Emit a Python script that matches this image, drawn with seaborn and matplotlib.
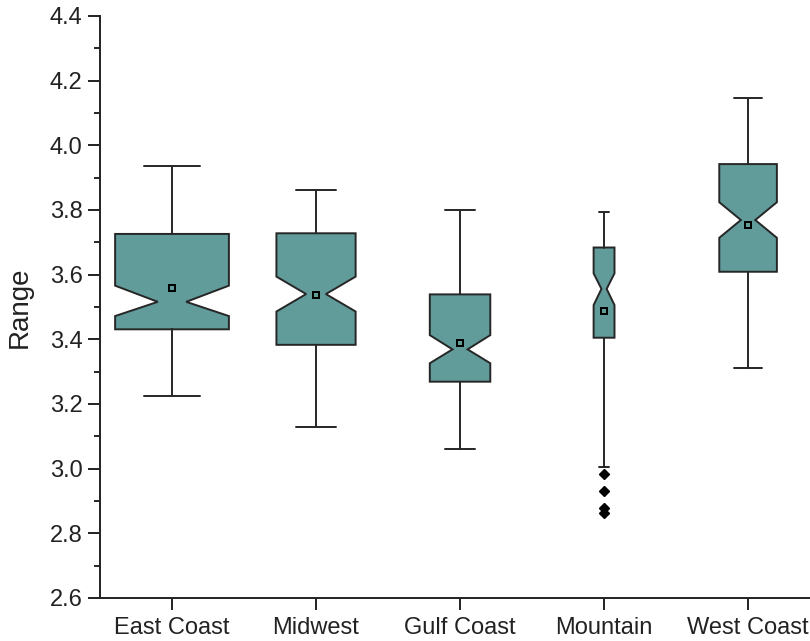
import matplotlib
matplotlib.use("Agg")
import matplotlib.pyplot as plt
import seaborn as sns

# значения
regions = ["East Coast", "Midwest", "Gulf Coast", "Mountain", "West Coast"]
whislo = [3.226, 3.128, 3.060, 3.004, 3.312]
q1 = [3.431, 3.383, 3.269, 3.405, 3.609]
medians = [3.516, 3.540, 3.369, 3.556, 3.769]
q3 = [3.726, 3.728, 3.539, 3.684, 3.942]
whishi = [3.937, 3.862, 3.800, 3.795, 4.146]
notch_lo = [3.472, 3.486, 3.326, 3.506, 3.714]
notch_hi = [3.566, 3.594, 3.413, 3.604, 3.824]
means = [3.560, 3.537, 3.390, 3.489, 3.754]
outliers = [[], [], [], [2.983, 2.931, 2.879, 2.862], []]

# статистика для ящиков
stats = []
for i, name in enumerate(regions):
    stats.append(dict(label=name, whislo=whislo[i], q1=q1[i], med=medians[i],
                      q3=q3[i], whishi=whishi[i], cilo=notch_lo[i],
                      cihi=notch_hi[i], mean=means[i], fliers=outliers[i]))

sns.set_style("ticks")
plt.rcParams['font.family'] = ['Liberation Sans', 'DejaVu Sans']

fig = plt.figure(figsize=(8.1, 6.41), dpi=100)
ax = fig.add_axes([100 / 810, 43 / 641, 710 / 810, 582 / 641])

box_color = "#619b9a"
edge = "#262626"
lw = 1.4
widths = [0.79, 0.55, 0.42, 0.145, 0.40]
positions = list(range(len(regions)))

res = ax.bxp(stats, positions=positions, widths=widths, shownotches=True,
             showmeans=True, patch_artist=True,
             boxprops=dict(facecolor=box_color, edgecolor=edge, linewidth=lw),
             whiskerprops=dict(color=edge, linewidth=lw),
             capprops=dict(color=edge, linewidth=lw),
             medianprops=dict(linewidth=0),
             meanprops=dict(marker="s", markerfacecolor="none",
                            markeredgecolor="black", markersize=5,
                            markeredgewidth=1.4),
             flierprops=dict(marker="D", markerfacecolor="black",
                             markeredgecolor="black", markersize=5.5))

# сужаем "талию" выемки
for box, pos, w in zip(res["boxes"], positions, widths):
    v = box.get_path().vertices
    v[3, 0] = pos + w * 0.125
    v[8, 0] = pos - w * 0.125

ax.set_xlim(-0.5, 4.43)
ax.set_ylim(2.6, 4.4)
ax.set_yticks([2.6 + 0.2 * k for k in range(10)])
ax.set_yticks([2.7 + 0.2 * k for k in range(9)], minor=True)
ax.set_xticks(positions)
ax.set_xticklabels(regions)
ax.yaxis.set_major_formatter(matplotlib.ticker.FormatStrFormatter("%.1f"))

ax.tick_params(axis="both", which="major", direction="out", length=8.5,
               width=lw, labelsize=17, colors="#222222", pad=4)
ax.tick_params(axis="x", which="major", pad=5)
ax.tick_params(axis="y", which="minor", direction="out", length=4, width=lw)
ax.set_ylabel("Range", fontsize=20, color="#222222", labelpad=12)
for s in ["left", "bottom"]:
    ax.spines[s].set_linewidth(lw)
    ax.spines[s].set_color("#222222")
sns.despine(ax=ax)

fig.savefig("out.png", dpi=100)
